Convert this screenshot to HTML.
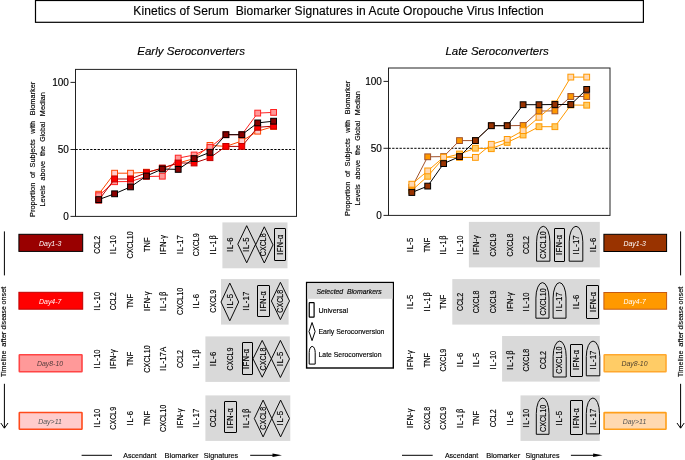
<!DOCTYPE html>
<html lang="en">
<head>
<meta charset="utf-8">
<title>Kinetics of Serum Biomarker Signatures in Acute Oropouche Virus Infection</title>
<style>
html,body{margin:0;padding:0;background:#fff;}
body{width:685px;height:460px;overflow:hidden;font-family:"Liberation Sans",Arial,sans-serif;}
svg{display:block;}
</style>
</head>
<body>
<svg width="685" height="460" viewBox="0 0 685 460">
<rect x="0" y="0" width="685" height="460" fill="#fff"/>
<rect x="35.5" y="0.5" width="607.9" height="21.8" fill="#fff" stroke="#000" stroke-width="1.2"/>
<text font-family="Liberation Sans, Arial, sans-serif" font-size="12" text-anchor="start" fill="#000" stroke="#000" stroke-width="0.15" textLength="410.5" lengthAdjust="spacing" x="133.30" y="14.70"  xml:space="preserve">Kinetics of Serum  Biomarker Signatures in Acute Oropouche Virus Infection</text>
<text font-family="Liberation Sans, Arial, sans-serif" font-size="11.5" text-anchor="start" fill="#000" stroke="#000" stroke-width="0.15" font-style="italic" textLength="107.8" lengthAdjust="spacingAndGlyphs" x="137.20" y="55.40"  xml:space="preserve">Early Seroconverters</text>
<text font-family="Liberation Sans, Arial, sans-serif" font-size="11.5" text-anchor="start" fill="#000" stroke="#000" stroke-width="0.15" font-style="italic" textLength="103.4" lengthAdjust="spacingAndGlyphs" x="445.40" y="55.40"  xml:space="preserve">Late Seroconverters</text>
<rect x="75.5" y="69.4" width="221.0" height="147.0" fill="none" stroke="#222" stroke-width="1"/>
<line x1="70.5" y1="82.4" x2="75.5" y2="82.4" stroke="#222" stroke-width="1"/>
<text font-family="Liberation Sans, Arial, sans-serif" font-size="10" text-anchor="end" fill="#000" stroke="#000" stroke-width="0.15" x="68.90" y="86.00"  xml:space="preserve">100</text>
<line x1="70.5" y1="149.5" x2="75.5" y2="149.5" stroke="#222" stroke-width="1"/>
<text font-family="Liberation Sans, Arial, sans-serif" font-size="10" text-anchor="end" fill="#000" stroke="#000" stroke-width="0.15" x="68.90" y="153.10"  xml:space="preserve">50</text>
<line x1="70.5" y1="216.4" x2="75.5" y2="216.4" stroke="#222" stroke-width="1"/>
<text font-family="Liberation Sans, Arial, sans-serif" font-size="10" text-anchor="end" fill="#000" stroke="#000" stroke-width="0.15" x="68.90" y="220.00"  xml:space="preserve">0</text>
<line x1="75.5" y1="149.5" x2="296.5" y2="149.5" stroke="#000" stroke-width="1" stroke-dasharray="2.3 1.38"/>
<text font-family="Liberation Sans, Arial, sans-serif" font-size="7.4" text-anchor="start" fill="#000" stroke="#000" stroke-width="0.15" textLength="34.3" lengthAdjust="spacingAndGlyphs" transform="translate(35.00,217.00) rotate(-90)"  xml:space="preserve">Proportion</text>
<text font-family="Liberation Sans, Arial, sans-serif" font-size="7.4" text-anchor="start" fill="#000" stroke="#000" stroke-width="0.15" textLength="6.3" lengthAdjust="spacingAndGlyphs" transform="translate(35.00,178.10) rotate(-90)"  xml:space="preserve">of</text>
<text font-family="Liberation Sans, Arial, sans-serif" font-size="7.4" text-anchor="start" fill="#000" stroke="#000" stroke-width="0.15" textLength="28.2" lengthAdjust="spacingAndGlyphs" transform="translate(35.00,167.50) rotate(-90)"  xml:space="preserve">Subjects</text>
<text font-family="Liberation Sans, Arial, sans-serif" font-size="7.4" text-anchor="start" fill="#000" stroke="#000" stroke-width="0.15" textLength="12.9" lengthAdjust="spacingAndGlyphs" transform="translate(35.00,133.80) rotate(-90)"  xml:space="preserve">with</text>
<text font-family="Liberation Sans, Arial, sans-serif" font-size="7.4" text-anchor="start" fill="#000" stroke="#000" stroke-width="0.15" textLength="33.5" lengthAdjust="spacingAndGlyphs" transform="translate(35.00,115.30) rotate(-90)"  xml:space="preserve">Biomarker</text>
<text font-family="Liberation Sans, Arial, sans-serif" font-size="7.4" text-anchor="start" fill="#000" stroke="#000" stroke-width="0.15" textLength="21.2" lengthAdjust="spacingAndGlyphs" transform="translate(44.80,206.60) rotate(-90)"  xml:space="preserve">Levels</text>
<text font-family="Liberation Sans, Arial, sans-serif" font-size="7.4" text-anchor="start" fill="#000" stroke="#000" stroke-width="0.15" textLength="19.7" lengthAdjust="spacingAndGlyphs" transform="translate(44.80,180.60) rotate(-90)"  xml:space="preserve">above</text>
<text font-family="Liberation Sans, Arial, sans-serif" font-size="7.4" text-anchor="start" fill="#000" stroke="#000" stroke-width="0.15" textLength="10.1" lengthAdjust="spacingAndGlyphs" transform="translate(44.80,156.10) rotate(-90)"  xml:space="preserve">the</text>
<text font-family="Liberation Sans, Arial, sans-serif" font-size="7.4" text-anchor="start" fill="#000" stroke="#000" stroke-width="0.15" textLength="20.0" lengthAdjust="spacingAndGlyphs" transform="translate(44.80,141.80) rotate(-90)"  xml:space="preserve">Global</text>
<text font-family="Liberation Sans, Arial, sans-serif" font-size="7.4" text-anchor="start" fill="#000" stroke="#000" stroke-width="0.15" textLength="24.0" lengthAdjust="spacingAndGlyphs" transform="translate(44.80,116.20) rotate(-90)"  xml:space="preserve">Median</text>
<polyline points="98.7,194.2 114.6,173.2 130.5,173.2 146.4,172.2 162.3,168.5 178.2,163.0 194.1,158.6 210.0,145.4 225.9,146.4 241.8,141.0 257.7,131.2 273.6,126.5" fill="none" stroke="#ff4500" stroke-width="1"/>
<rect x="95.8" y="191.3" width="5.8" height="5.8" fill="#ffcccc" stroke="#ff4500" stroke-width="1"/>
<rect x="111.7" y="170.3" width="5.8" height="5.8" fill="#ffcccc" stroke="#ff4500" stroke-width="1"/>
<rect x="127.6" y="170.3" width="5.8" height="5.8" fill="#ffcccc" stroke="#ff4500" stroke-width="1"/>
<rect x="143.5" y="169.3" width="5.8" height="5.8" fill="#ffcccc" stroke="#ff4500" stroke-width="1"/>
<rect x="159.4" y="165.6" width="5.8" height="5.8" fill="#ffcccc" stroke="#ff4500" stroke-width="1"/>
<rect x="175.3" y="160.1" width="5.8" height="5.8" fill="#ffcccc" stroke="#ff4500" stroke-width="1"/>
<rect x="191.2" y="155.7" width="5.8" height="5.8" fill="#ffcccc" stroke="#ff4500" stroke-width="1"/>
<rect x="207.1" y="142.5" width="5.8" height="5.8" fill="#ffcccc" stroke="#ff4500" stroke-width="1"/>
<rect x="223.0" y="143.5" width="5.8" height="5.8" fill="#ffcccc" stroke="#ff4500" stroke-width="1"/>
<rect x="238.9" y="138.1" width="5.8" height="5.8" fill="#ffcccc" stroke="#ff4500" stroke-width="1"/>
<rect x="254.8" y="128.3" width="5.8" height="5.8" fill="#ffcccc" stroke="#ff4500" stroke-width="1"/>
<rect x="270.7" y="123.6" width="5.8" height="5.8" fill="#ffcccc" stroke="#ff4500" stroke-width="1"/>
<polyline points="98.7,195.7 114.6,181.7 130.5,181.5 146.4,176.5 162.3,176.2 178.2,158.1 194.1,155.0 210.0,147.5 225.9,134.7 241.8,134.7 257.7,113.1 273.6,112.4" fill="none" stroke="#ff2222" stroke-width="1"/>
<rect x="95.8" y="192.8" width="5.8" height="5.8" fill="#ff9999" stroke="#ff2222" stroke-width="1"/>
<rect x="111.7" y="178.8" width="5.8" height="5.8" fill="#ff9999" stroke="#ff2222" stroke-width="1"/>
<rect x="127.6" y="178.6" width="5.8" height="5.8" fill="#ff9999" stroke="#ff2222" stroke-width="1"/>
<rect x="143.5" y="173.6" width="5.8" height="5.8" fill="#ff9999" stroke="#ff2222" stroke-width="1"/>
<rect x="159.4" y="173.3" width="5.8" height="5.8" fill="#ff9999" stroke="#ff2222" stroke-width="1"/>
<rect x="175.3" y="155.2" width="5.8" height="5.8" fill="#ff9999" stroke="#ff2222" stroke-width="1"/>
<rect x="191.2" y="152.1" width="5.8" height="5.8" fill="#ff9999" stroke="#ff2222" stroke-width="1"/>
<rect x="207.1" y="144.6" width="5.8" height="5.8" fill="#ff9999" stroke="#ff2222" stroke-width="1"/>
<rect x="223.0" y="131.8" width="5.8" height="5.8" fill="#ff9999" stroke="#ff2222" stroke-width="1"/>
<rect x="238.9" y="131.8" width="5.8" height="5.8" fill="#ff9999" stroke="#ff2222" stroke-width="1"/>
<rect x="254.8" y="110.2" width="5.8" height="5.8" fill="#ff9999" stroke="#ff2222" stroke-width="1"/>
<rect x="270.7" y="109.5" width="5.8" height="5.8" fill="#ff9999" stroke="#ff2222" stroke-width="1"/>
<polyline points="98.7,200.2 114.6,179.0 130.5,179.0 146.4,172.7 162.3,168.0 178.2,163.0 194.1,163.0 210.0,157.7 225.9,146.4 241.8,146.4 257.7,127.3 273.6,126.1" fill="none" stroke="#b00000" stroke-width="1"/>
<rect x="95.8" y="197.3" width="5.8" height="5.8" fill="#ff0000" stroke="#c00000" stroke-width="1"/>
<rect x="111.7" y="176.1" width="5.8" height="5.8" fill="#ff0000" stroke="#c00000" stroke-width="1"/>
<rect x="127.6" y="176.1" width="5.8" height="5.8" fill="#ff0000" stroke="#c00000" stroke-width="1"/>
<rect x="143.5" y="169.8" width="5.8" height="5.8" fill="#ff0000" stroke="#c00000" stroke-width="1"/>
<rect x="159.4" y="165.1" width="5.8" height="5.8" fill="#ff0000" stroke="#c00000" stroke-width="1"/>
<rect x="175.3" y="160.1" width="5.8" height="5.8" fill="#ff0000" stroke="#c00000" stroke-width="1"/>
<rect x="191.2" y="160.1" width="5.8" height="5.8" fill="#ff0000" stroke="#c00000" stroke-width="1"/>
<rect x="207.1" y="154.8" width="5.8" height="5.8" fill="#ff0000" stroke="#c00000" stroke-width="1"/>
<rect x="223.0" y="143.5" width="5.8" height="5.8" fill="#ff0000" stroke="#c00000" stroke-width="1"/>
<rect x="238.9" y="143.5" width="5.8" height="5.8" fill="#ff0000" stroke="#c00000" stroke-width="1"/>
<rect x="254.8" y="124.4" width="5.8" height="5.8" fill="#ff0000" stroke="#c00000" stroke-width="1"/>
<rect x="270.7" y="123.2" width="5.8" height="5.8" fill="#ff0000" stroke="#c00000" stroke-width="1"/>
<polyline points="98.7,199.6 114.6,193.8 130.5,186.9 146.4,176.0 162.3,169.0 178.2,169.4 194.1,158.6 210.0,152.3 225.9,134.7 241.8,134.7 257.7,122.9 273.6,121.2" fill="none" stroke="#000" stroke-width="1"/>
<rect x="95.8" y="196.7" width="5.8" height="5.8" fill="#8b0000" stroke="#000" stroke-width="1"/>
<rect x="111.7" y="190.9" width="5.8" height="5.8" fill="#8b0000" stroke="#000" stroke-width="1"/>
<rect x="127.6" y="184.0" width="5.8" height="5.8" fill="#8b0000" stroke="#000" stroke-width="1"/>
<rect x="143.5" y="173.1" width="5.8" height="5.8" fill="#8b0000" stroke="#000" stroke-width="1"/>
<rect x="159.4" y="166.1" width="5.8" height="5.8" fill="#8b0000" stroke="#000" stroke-width="1"/>
<rect x="175.3" y="166.5" width="5.8" height="5.8" fill="#8b0000" stroke="#000" stroke-width="1"/>
<rect x="191.2" y="155.7" width="5.8" height="5.8" fill="#8b0000" stroke="#000" stroke-width="1"/>
<rect x="207.1" y="149.4" width="5.8" height="5.8" fill="#8b0000" stroke="#000" stroke-width="1"/>
<rect x="223.0" y="131.8" width="5.8" height="5.8" fill="#8b0000" stroke="#000" stroke-width="1"/>
<rect x="238.9" y="131.8" width="5.8" height="5.8" fill="#8b0000" stroke="#000" stroke-width="1"/>
<rect x="254.8" y="120.0" width="5.8" height="5.8" fill="#8b0000" stroke="#000" stroke-width="1"/>
<rect x="270.7" y="118.3" width="5.8" height="5.8" fill="#8b0000" stroke="#000" stroke-width="1"/>
<rect x="388.5" y="68.0" width="221.5" height="147.4" fill="none" stroke="#222" stroke-width="1"/>
<line x1="383.5" y1="81.4" x2="388.5" y2="81.4" stroke="#222" stroke-width="1"/>
<text font-family="Liberation Sans, Arial, sans-serif" font-size="10" text-anchor="end" fill="#000" stroke="#000" stroke-width="0.15" x="381.90" y="85.00"  xml:space="preserve">100</text>
<line x1="383.5" y1="148.3" x2="388.5" y2="148.3" stroke="#222" stroke-width="1"/>
<text font-family="Liberation Sans, Arial, sans-serif" font-size="10" text-anchor="end" fill="#000" stroke="#000" stroke-width="0.15" x="381.90" y="151.90"  xml:space="preserve">50</text>
<line x1="383.5" y1="215.4" x2="388.5" y2="215.4" stroke="#222" stroke-width="1"/>
<text font-family="Liberation Sans, Arial, sans-serif" font-size="10" text-anchor="end" fill="#000" stroke="#000" stroke-width="0.15" x="381.90" y="219.00"  xml:space="preserve">0</text>
<line x1="388.5" y1="148.3" x2="610" y2="148.3" stroke="#000" stroke-width="1" stroke-dasharray="2.3 1.38"/>
<text font-family="Liberation Sans, Arial, sans-serif" font-size="7.4" text-anchor="start" fill="#000" stroke="#000" stroke-width="0.15" textLength="34.3" lengthAdjust="spacingAndGlyphs" transform="translate(350.00,216.00) rotate(-90)"  xml:space="preserve">Proportion</text>
<text font-family="Liberation Sans, Arial, sans-serif" font-size="7.4" text-anchor="start" fill="#000" stroke="#000" stroke-width="0.15" textLength="6.3" lengthAdjust="spacingAndGlyphs" transform="translate(350.00,177.10) rotate(-90)"  xml:space="preserve">of</text>
<text font-family="Liberation Sans, Arial, sans-serif" font-size="7.4" text-anchor="start" fill="#000" stroke="#000" stroke-width="0.15" textLength="28.2" lengthAdjust="spacingAndGlyphs" transform="translate(350.00,166.50) rotate(-90)"  xml:space="preserve">Subjects</text>
<text font-family="Liberation Sans, Arial, sans-serif" font-size="7.4" text-anchor="start" fill="#000" stroke="#000" stroke-width="0.15" textLength="12.9" lengthAdjust="spacingAndGlyphs" transform="translate(350.00,132.80) rotate(-90)"  xml:space="preserve">with</text>
<text font-family="Liberation Sans, Arial, sans-serif" font-size="7.4" text-anchor="start" fill="#000" stroke="#000" stroke-width="0.15" textLength="33.5" lengthAdjust="spacingAndGlyphs" transform="translate(350.00,114.30) rotate(-90)"  xml:space="preserve">Biomarker</text>
<text font-family="Liberation Sans, Arial, sans-serif" font-size="7.4" text-anchor="start" fill="#000" stroke="#000" stroke-width="0.15" textLength="21.2" lengthAdjust="spacingAndGlyphs" transform="translate(359.80,205.60) rotate(-90)"  xml:space="preserve">Levels</text>
<text font-family="Liberation Sans, Arial, sans-serif" font-size="7.4" text-anchor="start" fill="#000" stroke="#000" stroke-width="0.15" textLength="19.7" lengthAdjust="spacingAndGlyphs" transform="translate(359.80,179.60) rotate(-90)"  xml:space="preserve">above</text>
<text font-family="Liberation Sans, Arial, sans-serif" font-size="7.4" text-anchor="start" fill="#000" stroke="#000" stroke-width="0.15" textLength="10.1" lengthAdjust="spacingAndGlyphs" transform="translate(359.80,155.10) rotate(-90)"  xml:space="preserve">the</text>
<text font-family="Liberation Sans, Arial, sans-serif" font-size="7.4" text-anchor="start" fill="#000" stroke="#000" stroke-width="0.15" textLength="20.0" lengthAdjust="spacingAndGlyphs" transform="translate(359.80,140.80) rotate(-90)"  xml:space="preserve">Global</text>
<text font-family="Liberation Sans, Arial, sans-serif" font-size="7.4" text-anchor="start" fill="#000" stroke="#000" stroke-width="0.15" textLength="24.0" lengthAdjust="spacingAndGlyphs" transform="translate(359.80,115.20) rotate(-90)"  xml:space="preserve">Median</text>
<polyline points="411.8,190.4 427.7,176.3 443.6,157.9 459.5,154.0 475.4,148.2 491.3,148.7 507.2,142.4 523.1,135.0 539.0,126.7 554.9,126.7 570.8,105.0 586.7,105.2" fill="none" stroke="#ff9900" stroke-width="1"/>
<rect x="408.9" y="187.5" width="5.8" height="5.8" fill="#ffcc66" stroke="#ff9900" stroke-width="1"/>
<rect x="424.8" y="173.4" width="5.8" height="5.8" fill="#ffcc66" stroke="#ff9900" stroke-width="1"/>
<rect x="440.7" y="155.0" width="5.8" height="5.8" fill="#ffcc66" stroke="#ff9900" stroke-width="1"/>
<rect x="456.6" y="151.1" width="5.8" height="5.8" fill="#ffcc66" stroke="#ff9900" stroke-width="1"/>
<rect x="472.5" y="145.3" width="5.8" height="5.8" fill="#ffcc66" stroke="#ff9900" stroke-width="1"/>
<rect x="488.4" y="145.8" width="5.8" height="5.8" fill="#ffcc66" stroke="#ff9900" stroke-width="1"/>
<rect x="504.3" y="139.5" width="5.8" height="5.8" fill="#ffcc66" stroke="#ff9900" stroke-width="1"/>
<rect x="520.2" y="132.1" width="5.8" height="5.8" fill="#ffcc66" stroke="#ff9900" stroke-width="1"/>
<rect x="536.1" y="123.8" width="5.8" height="5.8" fill="#ffcc66" stroke="#ff9900" stroke-width="1"/>
<rect x="552.0" y="123.8" width="5.8" height="5.8" fill="#ffcc66" stroke="#ff9900" stroke-width="1"/>
<rect x="567.9" y="102.1" width="5.8" height="5.8" fill="#ffcc66" stroke="#ff9900" stroke-width="1"/>
<rect x="583.8" y="102.3" width="5.8" height="5.8" fill="#ffcc66" stroke="#ff9900" stroke-width="1"/>
<polyline points="411.8,187.4 427.7,156.8 443.6,156.6 459.5,140.6 475.4,140.6 491.3,125.7 507.2,125.7 523.1,125.5 539.0,111.0 554.9,110.9 570.8,96.5 586.7,96.5" fill="none" stroke="#a0522d" stroke-width="1"/>
<rect x="408.9" y="184.5" width="5.8" height="5.8" fill="#ff9900" stroke="#a0522d" stroke-width="1"/>
<rect x="424.8" y="153.9" width="5.8" height="5.8" fill="#ff9900" stroke="#a0522d" stroke-width="1"/>
<rect x="440.7" y="153.7" width="5.8" height="5.8" fill="#ff9900" stroke="#a0522d" stroke-width="1"/>
<rect x="456.6" y="137.7" width="5.8" height="5.8" fill="#ff9900" stroke="#a0522d" stroke-width="1"/>
<rect x="472.5" y="137.7" width="5.8" height="5.8" fill="#ff9900" stroke="#a0522d" stroke-width="1"/>
<rect x="488.4" y="122.8" width="5.8" height="5.8" fill="#ff9900" stroke="#a0522d" stroke-width="1"/>
<rect x="504.3" y="122.8" width="5.8" height="5.8" fill="#ff9900" stroke="#a0522d" stroke-width="1"/>
<rect x="520.2" y="122.6" width="5.8" height="5.8" fill="#ff9900" stroke="#a0522d" stroke-width="1"/>
<rect x="536.1" y="108.1" width="5.8" height="5.8" fill="#ff9900" stroke="#a0522d" stroke-width="1"/>
<rect x="552.0" y="108.0" width="5.8" height="5.8" fill="#ff9900" stroke="#a0522d" stroke-width="1"/>
<rect x="567.9" y="93.6" width="5.8" height="5.8" fill="#ff9900" stroke="#a0522d" stroke-width="1"/>
<rect x="583.8" y="93.6" width="5.8" height="5.8" fill="#ff9900" stroke="#a0522d" stroke-width="1"/>
<polyline points="411.8,184.2 427.7,170.9 443.6,157.2 459.5,157.4 475.4,157.4 491.3,144.3 507.2,139.4 523.1,130.6 539.0,117.3 554.9,103.9 570.8,77.1 586.7,77.1" fill="none" stroke="#ff9900" stroke-width="1"/>
<rect x="408.9" y="181.3" width="5.8" height="5.8" fill="#ffd9b3" stroke="#ff9900" stroke-width="1"/>
<rect x="424.8" y="168.0" width="5.8" height="5.8" fill="#ffd9b3" stroke="#ff9900" stroke-width="1"/>
<rect x="440.7" y="154.3" width="5.8" height="5.8" fill="#ffd9b3" stroke="#ff9900" stroke-width="1"/>
<rect x="456.6" y="154.5" width="5.8" height="5.8" fill="#ffd9b3" stroke="#ff9900" stroke-width="1"/>
<rect x="472.5" y="154.5" width="5.8" height="5.8" fill="#ffd9b3" stroke="#ff9900" stroke-width="1"/>
<rect x="488.4" y="141.4" width="5.8" height="5.8" fill="#ffd9b3" stroke="#ff9900" stroke-width="1"/>
<rect x="504.3" y="136.5" width="5.8" height="5.8" fill="#ffd9b3" stroke="#ff9900" stroke-width="1"/>
<rect x="520.2" y="127.7" width="5.8" height="5.8" fill="#ffd9b3" stroke="#ff9900" stroke-width="1"/>
<rect x="536.1" y="114.4" width="5.8" height="5.8" fill="#ffd9b3" stroke="#ff9900" stroke-width="1"/>
<rect x="552.0" y="101.0" width="5.8" height="5.8" fill="#ffd9b3" stroke="#ff9900" stroke-width="1"/>
<rect x="567.9" y="74.2" width="5.8" height="5.8" fill="#ffd9b3" stroke="#ff9900" stroke-width="1"/>
<rect x="583.8" y="74.2" width="5.8" height="5.8" fill="#ffd9b3" stroke="#ff9900" stroke-width="1"/>
<polyline points="411.8,192.5 427.7,186.1 443.6,163.6 459.5,156.6 475.4,140.6 491.3,125.7 507.2,125.7 523.1,104.7 539.0,104.7 554.9,104.5 570.8,104.5 586.7,89.4" fill="none" stroke="#000" stroke-width="1"/>
<rect x="408.9" y="189.6" width="5.8" height="5.8" fill="#993300" stroke="#000" stroke-width="1"/>
<rect x="424.8" y="183.2" width="5.8" height="5.8" fill="#993300" stroke="#000" stroke-width="1"/>
<rect x="440.7" y="160.7" width="5.8" height="5.8" fill="#993300" stroke="#000" stroke-width="1"/>
<rect x="456.6" y="153.7" width="5.8" height="5.8" fill="#993300" stroke="#000" stroke-width="1"/>
<rect x="472.5" y="137.7" width="5.8" height="5.8" fill="#993300" stroke="#000" stroke-width="1"/>
<rect x="488.4" y="122.8" width="5.8" height="5.8" fill="#993300" stroke="#000" stroke-width="1"/>
<rect x="504.3" y="122.8" width="5.8" height="5.8" fill="#993300" stroke="#000" stroke-width="1"/>
<rect x="520.2" y="101.8" width="5.8" height="5.8" fill="#993300" stroke="#000" stroke-width="1"/>
<rect x="536.1" y="101.8" width="5.8" height="5.8" fill="#993300" stroke="#000" stroke-width="1"/>
<rect x="552.0" y="101.6" width="5.8" height="5.8" fill="#993300" stroke="#000" stroke-width="1"/>
<rect x="567.9" y="101.6" width="5.8" height="5.8" fill="#993300" stroke="#000" stroke-width="1"/>
<rect x="583.8" y="86.5" width="5.8" height="5.8" fill="#993300" stroke="#000" stroke-width="1"/>
<rect x="222.4" y="222.4" width="65.1" height="45.9" fill="#d9d9d9"/>
<rect x="221" y="279.1" width="67.6" height="45.5" fill="#d9d9d9"/>
<rect x="205.4" y="336.4" width="84.4" height="45.5" fill="#d9d9d9"/>
<rect x="205.4" y="395.4" width="84.9" height="45.5" fill="#d9d9d9"/>
<rect x="468.9" y="221.9" width="130.9" height="45.5" fill="#d9d9d9"/>
<rect x="452.3" y="279.1" width="147.5" height="45.5" fill="#d9d9d9"/>
<rect x="502.1" y="336" width="97.7" height="45.6" fill="#d9d9d9"/>
<rect x="520.5" y="395.4" width="79.3" height="45.5" fill="#d9d9d9"/>
<text font-family="Liberation Sans, Arial, sans-serif" font-size="9.2" text-anchor="middle" fill="#000" stroke="#000" stroke-width="0.15" textLength="18.1" lengthAdjust="spacingAndGlyphs" transform="translate(99.70,244.80) rotate(-90)"  xml:space="preserve">CCL2</text>
<text font-family="Liberation Sans, Arial, sans-serif" font-size="9.2" text-anchor="middle" fill="#000" stroke="#000" stroke-width="0.15" textLength="19.0" lengthAdjust="spacingAndGlyphs" transform="translate(116.32,244.80) rotate(-90)" dx="0 1.1 0.3 0.2" xml:space="preserve">IL-10</text>
<text font-family="Liberation Sans, Arial, sans-serif" font-size="9.2" text-anchor="middle" fill="#000" stroke="#000" stroke-width="0.15" textLength="27.4" lengthAdjust="spacingAndGlyphs" transform="translate(132.94,244.80) rotate(-90)"  xml:space="preserve">CXCL10</text>
<text font-family="Liberation Sans, Arial, sans-serif" font-size="9.2" text-anchor="middle" fill="#000" stroke="#000" stroke-width="0.15" textLength="14.5" lengthAdjust="spacingAndGlyphs" transform="translate(149.56,244.80) rotate(-90)"  xml:space="preserve">TNF</text>
<text font-family="Liberation Sans, Arial, sans-serif" font-size="9.2" text-anchor="middle" fill="#000" stroke="#000" stroke-width="0.15" textLength="19.3" lengthAdjust="spacingAndGlyphs" transform="translate(166.18,244.80) rotate(-90)" dx="0 0.9 0.5 0.2 0.2" xml:space="preserve">IFN-γ</text>
<text font-family="Liberation Sans, Arial, sans-serif" font-size="9.2" text-anchor="middle" fill="#000" stroke="#000" stroke-width="0.15" textLength="19.0" lengthAdjust="spacingAndGlyphs" transform="translate(182.80,244.80) rotate(-90)" dx="0 1.1 0.3 0.2" xml:space="preserve">IL-17</text>
<text font-family="Liberation Sans, Arial, sans-serif" font-size="9.2" text-anchor="middle" fill="#000" stroke="#000" stroke-width="0.15" textLength="22.8" lengthAdjust="spacingAndGlyphs" transform="translate(199.42,244.80) rotate(-90)"  xml:space="preserve">CXCL9</text>
<text font-family="Liberation Sans, Arial, sans-serif" font-size="9.2" text-anchor="middle" fill="#000" stroke="#000" stroke-width="0.15" textLength="19.2" lengthAdjust="spacingAndGlyphs" transform="translate(216.04,244.80) rotate(-90)" dx="0 1.1 0.3 0.2 0.9" xml:space="preserve">IL-1β</text>
<text font-family="Liberation Sans, Arial, sans-serif" font-size="9.2" text-anchor="middle" fill="#000" stroke="#000" stroke-width="0.15" textLength="14.5" lengthAdjust="spacingAndGlyphs" transform="translate(232.66,244.80) rotate(-90)" dx="0 1.1 0.3 0.2" xml:space="preserve">IL-6</text>
<text font-family="Liberation Sans, Arial, sans-serif" font-size="9.2" text-anchor="middle" fill="#000" stroke="#000" stroke-width="0.15" textLength="14.5" lengthAdjust="spacingAndGlyphs" transform="translate(249.28,244.80) rotate(-90)" dx="0 1.1 0.3 0.2" xml:space="preserve">IL-5</text>
<text font-family="Liberation Sans, Arial, sans-serif" font-size="9.2" text-anchor="middle" fill="#000" stroke="#000" stroke-width="0.15" textLength="22.8" lengthAdjust="spacingAndGlyphs" transform="translate(265.90,244.80) rotate(-90)"  xml:space="preserve">CXCL8</text>
<text font-family="Liberation Sans, Arial, sans-serif" font-size="9.2" text-anchor="middle" fill="#000" stroke="#000" stroke-width="0.15" textLength="20.0" lengthAdjust="spacingAndGlyphs" transform="translate(282.52,244.80) rotate(-90)" dx="0 0.9 0.5 0.2 0.2" xml:space="preserve">IFN-α</text>
<text font-family="Liberation Sans, Arial, sans-serif" font-size="9.2" text-anchor="middle" fill="#000" stroke="#000" stroke-width="0.15" textLength="19.0" lengthAdjust="spacingAndGlyphs" transform="translate(99.70,301.30) rotate(-90)" dx="0 1.1 0.3 0.2" xml:space="preserve">IL-10</text>
<text font-family="Liberation Sans, Arial, sans-serif" font-size="9.2" text-anchor="middle" fill="#000" stroke="#000" stroke-width="0.15" textLength="18.1" lengthAdjust="spacingAndGlyphs" transform="translate(116.32,301.30) rotate(-90)"  xml:space="preserve">CCL2</text>
<text font-family="Liberation Sans, Arial, sans-serif" font-size="9.2" text-anchor="middle" fill="#000" stroke="#000" stroke-width="0.15" textLength="14.5" lengthAdjust="spacingAndGlyphs" transform="translate(132.94,301.30) rotate(-90)"  xml:space="preserve">TNF</text>
<text font-family="Liberation Sans, Arial, sans-serif" font-size="9.2" text-anchor="middle" fill="#000" stroke="#000" stroke-width="0.15" textLength="19.3" lengthAdjust="spacingAndGlyphs" transform="translate(149.56,301.30) rotate(-90)" dx="0 0.9 0.5 0.2 0.2" xml:space="preserve">IFN-γ</text>
<text font-family="Liberation Sans, Arial, sans-serif" font-size="9.2" text-anchor="middle" fill="#000" stroke="#000" stroke-width="0.15" textLength="19.2" lengthAdjust="spacingAndGlyphs" transform="translate(166.18,301.30) rotate(-90)" dx="0 1.1 0.3 0.2 0.9" xml:space="preserve">IL-1β</text>
<text font-family="Liberation Sans, Arial, sans-serif" font-size="9.2" text-anchor="middle" fill="#000" stroke="#000" stroke-width="0.15" textLength="27.4" lengthAdjust="spacingAndGlyphs" transform="translate(182.80,301.30) rotate(-90)"  xml:space="preserve">CXCL10</text>
<text font-family="Liberation Sans, Arial, sans-serif" font-size="9.2" text-anchor="middle" fill="#000" stroke="#000" stroke-width="0.15" textLength="14.5" lengthAdjust="spacingAndGlyphs" transform="translate(199.42,301.30) rotate(-90)" dx="0 1.1 0.3 0.2" xml:space="preserve">IL-6</text>
<text font-family="Liberation Sans, Arial, sans-serif" font-size="9.2" text-anchor="middle" fill="#000" stroke="#000" stroke-width="0.15" textLength="22.8" lengthAdjust="spacingAndGlyphs" transform="translate(216.04,301.30) rotate(-90)"  xml:space="preserve">CXCL9</text>
<text font-family="Liberation Sans, Arial, sans-serif" font-size="9.2" text-anchor="middle" fill="#000" stroke="#000" stroke-width="0.15" textLength="14.5" lengthAdjust="spacingAndGlyphs" transform="translate(232.66,301.30) rotate(-90)" dx="0 1.1 0.3 0.2" xml:space="preserve">IL-5</text>
<text font-family="Liberation Sans, Arial, sans-serif" font-size="9.2" text-anchor="middle" fill="#000" stroke="#000" stroke-width="0.15" textLength="19.0" lengthAdjust="spacingAndGlyphs" transform="translate(249.28,301.30) rotate(-90)" dx="0 1.1 0.3 0.2" xml:space="preserve">IL-17</text>
<text font-family="Liberation Sans, Arial, sans-serif" font-size="9.2" text-anchor="middle" fill="#000" stroke="#000" stroke-width="0.15" textLength="20.0" lengthAdjust="spacingAndGlyphs" transform="translate(265.90,301.30) rotate(-90)" dx="0 0.9 0.5 0.2 0.2" xml:space="preserve">IFN-α</text>
<text font-family="Liberation Sans, Arial, sans-serif" font-size="9.2" text-anchor="middle" fill="#000" stroke="#000" stroke-width="0.15" textLength="22.8" lengthAdjust="spacingAndGlyphs" transform="translate(282.52,301.30) rotate(-90)"  xml:space="preserve">CXCL8</text>
<text font-family="Liberation Sans, Arial, sans-serif" font-size="9.2" text-anchor="middle" fill="#000" stroke="#000" stroke-width="0.15" textLength="19.0" lengthAdjust="spacingAndGlyphs" transform="translate(99.70,359.00) rotate(-90)" dx="0 1.1 0.3 0.2" xml:space="preserve">IL-10</text>
<text font-family="Liberation Sans, Arial, sans-serif" font-size="9.2" text-anchor="middle" fill="#000" stroke="#000" stroke-width="0.15" textLength="19.3" lengthAdjust="spacingAndGlyphs" transform="translate(116.32,359.00) rotate(-90)" dx="0 0.9 0.5 0.2 0.2" xml:space="preserve">IFN-γ</text>
<text font-family="Liberation Sans, Arial, sans-serif" font-size="9.2" text-anchor="middle" fill="#000" stroke="#000" stroke-width="0.15" textLength="14.5" lengthAdjust="spacingAndGlyphs" transform="translate(132.94,359.00) rotate(-90)"  xml:space="preserve">TNF</text>
<text font-family="Liberation Sans, Arial, sans-serif" font-size="9.2" text-anchor="middle" fill="#000" stroke="#000" stroke-width="0.15" textLength="27.4" lengthAdjust="spacingAndGlyphs" transform="translate(149.56,359.00) rotate(-90)"  xml:space="preserve">CXCL10</text>
<text font-family="Liberation Sans, Arial, sans-serif" font-size="9.2" text-anchor="middle" fill="#000" stroke="#000" stroke-width="0.15" textLength="24.2" lengthAdjust="spacingAndGlyphs" transform="translate(166.18,359.00) rotate(-90)" dx="0 1.1 0.3 0.2" xml:space="preserve">IL-17A</text>
<text font-family="Liberation Sans, Arial, sans-serif" font-size="9.2" text-anchor="middle" fill="#000" stroke="#000" stroke-width="0.15" textLength="18.1" lengthAdjust="spacingAndGlyphs" transform="translate(182.80,359.00) rotate(-90)"  xml:space="preserve">CCL2</text>
<text font-family="Liberation Sans, Arial, sans-serif" font-size="9.2" text-anchor="middle" fill="#000" stroke="#000" stroke-width="0.15" textLength="19.2" lengthAdjust="spacingAndGlyphs" transform="translate(199.42,359.00) rotate(-90)" dx="0 1.1 0.3 0.2 0.9" xml:space="preserve">IL-1β</text>
<text font-family="Liberation Sans, Arial, sans-serif" font-size="9.2" text-anchor="middle" fill="#000" stroke="#000" stroke-width="0.15" textLength="14.5" lengthAdjust="spacingAndGlyphs" transform="translate(216.04,359.00) rotate(-90)" dx="0 1.1 0.3 0.2" xml:space="preserve">IL-6</text>
<text font-family="Liberation Sans, Arial, sans-serif" font-size="9.2" text-anchor="middle" fill="#000" stroke="#000" stroke-width="0.15" textLength="22.8" lengthAdjust="spacingAndGlyphs" transform="translate(232.66,359.00) rotate(-90)"  xml:space="preserve">CXCL9</text>
<text font-family="Liberation Sans, Arial, sans-serif" font-size="9.2" text-anchor="middle" fill="#000" stroke="#000" stroke-width="0.15" textLength="20.0" lengthAdjust="spacingAndGlyphs" transform="translate(249.28,359.00) rotate(-90)" dx="0 0.9 0.5 0.2 0.2" xml:space="preserve">IFN-α</text>
<text font-family="Liberation Sans, Arial, sans-serif" font-size="9.2" text-anchor="middle" fill="#000" stroke="#000" stroke-width="0.15" textLength="22.8" lengthAdjust="spacingAndGlyphs" transform="translate(265.90,359.00) rotate(-90)"  xml:space="preserve">CXCL8</text>
<text font-family="Liberation Sans, Arial, sans-serif" font-size="9.2" text-anchor="middle" fill="#000" stroke="#000" stroke-width="0.15" textLength="14.5" lengthAdjust="spacingAndGlyphs" transform="translate(282.52,359.00) rotate(-90)" dx="0 1.1 0.3 0.2" xml:space="preserve">IL-5</text>
<text font-family="Liberation Sans, Arial, sans-serif" font-size="9.2" text-anchor="middle" fill="#000" stroke="#000" stroke-width="0.15" textLength="19.0" lengthAdjust="spacingAndGlyphs" transform="translate(99.70,418.30) rotate(-90)" dx="0 1.1 0.3 0.2" xml:space="preserve">IL-10</text>
<text font-family="Liberation Sans, Arial, sans-serif" font-size="9.2" text-anchor="middle" fill="#000" stroke="#000" stroke-width="0.15" textLength="22.8" lengthAdjust="spacingAndGlyphs" transform="translate(116.32,418.30) rotate(-90)"  xml:space="preserve">CXCL9</text>
<text font-family="Liberation Sans, Arial, sans-serif" font-size="9.2" text-anchor="middle" fill="#000" stroke="#000" stroke-width="0.15" textLength="14.5" lengthAdjust="spacingAndGlyphs" transform="translate(132.94,418.30) rotate(-90)" dx="0 1.1 0.3 0.2" xml:space="preserve">IL-6</text>
<text font-family="Liberation Sans, Arial, sans-serif" font-size="9.2" text-anchor="middle" fill="#000" stroke="#000" stroke-width="0.15" textLength="14.5" lengthAdjust="spacingAndGlyphs" transform="translate(149.56,418.30) rotate(-90)"  xml:space="preserve">TNF</text>
<text font-family="Liberation Sans, Arial, sans-serif" font-size="9.2" text-anchor="middle" fill="#000" stroke="#000" stroke-width="0.15" textLength="27.4" lengthAdjust="spacingAndGlyphs" transform="translate(166.18,418.30) rotate(-90)"  xml:space="preserve">CXCL10</text>
<text font-family="Liberation Sans, Arial, sans-serif" font-size="9.2" text-anchor="middle" fill="#000" stroke="#000" stroke-width="0.15" textLength="19.3" lengthAdjust="spacingAndGlyphs" transform="translate(182.80,418.30) rotate(-90)" dx="0 0.9 0.5 0.2 0.2" xml:space="preserve">IFN-γ</text>
<text font-family="Liberation Sans, Arial, sans-serif" font-size="9.2" text-anchor="middle" fill="#000" stroke="#000" stroke-width="0.15" textLength="19.0" lengthAdjust="spacingAndGlyphs" transform="translate(199.42,418.30) rotate(-90)" dx="0 1.1 0.3 0.2" xml:space="preserve">IL-17</text>
<text font-family="Liberation Sans, Arial, sans-serif" font-size="9.2" text-anchor="middle" fill="#000" stroke="#000" stroke-width="0.15" textLength="18.1" lengthAdjust="spacingAndGlyphs" transform="translate(216.04,418.30) rotate(-90)"  xml:space="preserve">CCL2</text>
<text font-family="Liberation Sans, Arial, sans-serif" font-size="9.2" text-anchor="middle" fill="#000" stroke="#000" stroke-width="0.15" textLength="20.0" lengthAdjust="spacingAndGlyphs" transform="translate(232.66,418.30) rotate(-90)" dx="0 0.9 0.5 0.2 0.2" xml:space="preserve">IFN-α</text>
<text font-family="Liberation Sans, Arial, sans-serif" font-size="9.2" text-anchor="middle" fill="#000" stroke="#000" stroke-width="0.15" textLength="19.2" lengthAdjust="spacingAndGlyphs" transform="translate(249.28,418.30) rotate(-90)" dx="0 1.1 0.3 0.2 0.9" xml:space="preserve">IL-1β</text>
<text font-family="Liberation Sans, Arial, sans-serif" font-size="9.2" text-anchor="middle" fill="#000" stroke="#000" stroke-width="0.15" textLength="22.8" lengthAdjust="spacingAndGlyphs" transform="translate(265.90,418.30) rotate(-90)"  xml:space="preserve">CXCL8</text>
<text font-family="Liberation Sans, Arial, sans-serif" font-size="9.2" text-anchor="middle" fill="#000" stroke="#000" stroke-width="0.15" textLength="14.5" lengthAdjust="spacingAndGlyphs" transform="translate(282.52,418.30) rotate(-90)" dx="0 1.1 0.3 0.2" xml:space="preserve">IL-5</text>
<text font-family="Liberation Sans, Arial, sans-serif" font-size="9.2" text-anchor="middle" fill="#000" stroke="#000" stroke-width="0.15" textLength="14.5" lengthAdjust="spacingAndGlyphs" transform="translate(412.90,245.00) rotate(-90)" dx="0 1.1 0.3 0.2" xml:space="preserve">IL-5</text>
<text font-family="Liberation Sans, Arial, sans-serif" font-size="9.2" text-anchor="middle" fill="#000" stroke="#000" stroke-width="0.15" textLength="14.5" lengthAdjust="spacingAndGlyphs" transform="translate(429.50,245.00) rotate(-90)"  xml:space="preserve">TNF</text>
<text font-family="Liberation Sans, Arial, sans-serif" font-size="9.2" text-anchor="middle" fill="#000" stroke="#000" stroke-width="0.15" textLength="19.2" lengthAdjust="spacingAndGlyphs" transform="translate(446.10,245.00) rotate(-90)" dx="0 1.1 0.3 0.2 0.9" xml:space="preserve">IL-1β</text>
<text font-family="Liberation Sans, Arial, sans-serif" font-size="9.2" text-anchor="middle" fill="#000" stroke="#000" stroke-width="0.15" textLength="19.0" lengthAdjust="spacingAndGlyphs" transform="translate(462.70,245.00) rotate(-90)" dx="0 1.1 0.3 0.2" xml:space="preserve">IL-10</text>
<text font-family="Liberation Sans, Arial, sans-serif" font-size="9.2" text-anchor="middle" fill="#000" stroke="#000" stroke-width="0.15" textLength="19.3" lengthAdjust="spacingAndGlyphs" transform="translate(479.30,245.00) rotate(-90)" dx="0 0.9 0.5 0.2 0.2" xml:space="preserve">IFN-γ</text>
<text font-family="Liberation Sans, Arial, sans-serif" font-size="9.2" text-anchor="middle" fill="#000" stroke="#000" stroke-width="0.15" textLength="22.8" lengthAdjust="spacingAndGlyphs" transform="translate(495.90,245.00) rotate(-90)"  xml:space="preserve">CXCL9</text>
<text font-family="Liberation Sans, Arial, sans-serif" font-size="9.2" text-anchor="middle" fill="#000" stroke="#000" stroke-width="0.15" textLength="22.8" lengthAdjust="spacingAndGlyphs" transform="translate(512.50,245.00) rotate(-90)"  xml:space="preserve">CXCL8</text>
<text font-family="Liberation Sans, Arial, sans-serif" font-size="9.2" text-anchor="middle" fill="#000" stroke="#000" stroke-width="0.15" textLength="18.1" lengthAdjust="spacingAndGlyphs" transform="translate(529.10,245.00) rotate(-90)"  xml:space="preserve">CCL2</text>
<text font-family="Liberation Sans, Arial, sans-serif" font-size="9.2" text-anchor="middle" fill="#000" stroke="#000" stroke-width="0.15" textLength="27.4" lengthAdjust="spacingAndGlyphs" transform="translate(545.70,245.00) rotate(-90)"  xml:space="preserve">CXCL10</text>
<text font-family="Liberation Sans, Arial, sans-serif" font-size="9.2" text-anchor="middle" fill="#000" stroke="#000" stroke-width="0.15" textLength="20.0" lengthAdjust="spacingAndGlyphs" transform="translate(562.30,245.00) rotate(-90)" dx="0 0.9 0.5 0.2 0.2" xml:space="preserve">IFN-α</text>
<text font-family="Liberation Sans, Arial, sans-serif" font-size="9.2" text-anchor="middle" fill="#000" stroke="#000" stroke-width="0.15" textLength="19.0" lengthAdjust="spacingAndGlyphs" transform="translate(578.90,245.00) rotate(-90)" dx="0 1.1 0.3 0.2" xml:space="preserve">IL-17</text>
<text font-family="Liberation Sans, Arial, sans-serif" font-size="9.2" text-anchor="middle" fill="#000" stroke="#000" stroke-width="0.15" textLength="14.5" lengthAdjust="spacingAndGlyphs" transform="translate(595.50,245.00) rotate(-90)" dx="0 1.1 0.3 0.2" xml:space="preserve">IL-6</text>
<text font-family="Liberation Sans, Arial, sans-serif" font-size="9.2" text-anchor="middle" fill="#000" stroke="#000" stroke-width="0.15" textLength="14.5" lengthAdjust="spacingAndGlyphs" transform="translate(412.90,301.90) rotate(-90)" dx="0 1.1 0.3 0.2" xml:space="preserve">IL-5</text>
<text font-family="Liberation Sans, Arial, sans-serif" font-size="9.2" text-anchor="middle" fill="#000" stroke="#000" stroke-width="0.15" textLength="19.2" lengthAdjust="spacingAndGlyphs" transform="translate(429.50,301.90) rotate(-90)" dx="0 1.1 0.3 0.2 0.9" xml:space="preserve">IL-1β</text>
<text font-family="Liberation Sans, Arial, sans-serif" font-size="9.2" text-anchor="middle" fill="#000" stroke="#000" stroke-width="0.15" textLength="14.5" lengthAdjust="spacingAndGlyphs" transform="translate(446.10,301.90) rotate(-90)"  xml:space="preserve">TNF</text>
<text font-family="Liberation Sans, Arial, sans-serif" font-size="9.2" text-anchor="middle" fill="#000" stroke="#000" stroke-width="0.15" textLength="18.1" lengthAdjust="spacingAndGlyphs" transform="translate(462.70,301.90) rotate(-90)"  xml:space="preserve">CCL2</text>
<text font-family="Liberation Sans, Arial, sans-serif" font-size="9.2" text-anchor="middle" fill="#000" stroke="#000" stroke-width="0.15" textLength="22.8" lengthAdjust="spacingAndGlyphs" transform="translate(479.30,301.90) rotate(-90)"  xml:space="preserve">CXCL8</text>
<text font-family="Liberation Sans, Arial, sans-serif" font-size="9.2" text-anchor="middle" fill="#000" stroke="#000" stroke-width="0.15" textLength="22.8" lengthAdjust="spacingAndGlyphs" transform="translate(495.90,301.90) rotate(-90)"  xml:space="preserve">CXCL9</text>
<text font-family="Liberation Sans, Arial, sans-serif" font-size="9.2" text-anchor="middle" fill="#000" stroke="#000" stroke-width="0.15" textLength="19.3" lengthAdjust="spacingAndGlyphs" transform="translate(512.50,301.90) rotate(-90)" dx="0 0.9 0.5 0.2 0.2" xml:space="preserve">IFN-γ</text>
<text font-family="Liberation Sans, Arial, sans-serif" font-size="9.2" text-anchor="middle" fill="#000" stroke="#000" stroke-width="0.15" textLength="19.0" lengthAdjust="spacingAndGlyphs" transform="translate(529.10,301.90) rotate(-90)" dx="0 1.1 0.3 0.2" xml:space="preserve">IL-10</text>
<text font-family="Liberation Sans, Arial, sans-serif" font-size="9.2" text-anchor="middle" fill="#000" stroke="#000" stroke-width="0.15" textLength="27.4" lengthAdjust="spacingAndGlyphs" transform="translate(545.70,301.90) rotate(-90)"  xml:space="preserve">CXCL10</text>
<text font-family="Liberation Sans, Arial, sans-serif" font-size="9.2" text-anchor="middle" fill="#000" stroke="#000" stroke-width="0.15" textLength="19.0" lengthAdjust="spacingAndGlyphs" transform="translate(562.30,301.90) rotate(-90)" dx="0 1.1 0.3 0.2" xml:space="preserve">IL-17</text>
<text font-family="Liberation Sans, Arial, sans-serif" font-size="9.2" text-anchor="middle" fill="#000" stroke="#000" stroke-width="0.15" textLength="14.5" lengthAdjust="spacingAndGlyphs" transform="translate(578.90,301.90) rotate(-90)" dx="0 1.1 0.3 0.2" xml:space="preserve">IL-6</text>
<text font-family="Liberation Sans, Arial, sans-serif" font-size="9.2" text-anchor="middle" fill="#000" stroke="#000" stroke-width="0.15" textLength="20.0" lengthAdjust="spacingAndGlyphs" transform="translate(595.50,301.90) rotate(-90)" dx="0 0.9 0.5 0.2 0.2" xml:space="preserve">IFN-α</text>
<text font-family="Liberation Sans, Arial, sans-serif" font-size="9.2" text-anchor="middle" fill="#000" stroke="#000" stroke-width="0.15" textLength="19.3" lengthAdjust="spacingAndGlyphs" transform="translate(412.90,360.10) rotate(-90)" dx="0 0.9 0.5 0.2 0.2" xml:space="preserve">IFN-γ</text>
<text font-family="Liberation Sans, Arial, sans-serif" font-size="9.2" text-anchor="middle" fill="#000" stroke="#000" stroke-width="0.15" textLength="14.5" lengthAdjust="spacingAndGlyphs" transform="translate(429.50,360.10) rotate(-90)"  xml:space="preserve">TNF</text>
<text font-family="Liberation Sans, Arial, sans-serif" font-size="9.2" text-anchor="middle" fill="#000" stroke="#000" stroke-width="0.15" textLength="22.8" lengthAdjust="spacingAndGlyphs" transform="translate(446.10,360.10) rotate(-90)"  xml:space="preserve">CXCL9</text>
<text font-family="Liberation Sans, Arial, sans-serif" font-size="9.2" text-anchor="middle" fill="#000" stroke="#000" stroke-width="0.15" textLength="14.5" lengthAdjust="spacingAndGlyphs" transform="translate(462.70,360.10) rotate(-90)" dx="0 1.1 0.3 0.2" xml:space="preserve">IL-6</text>
<text font-family="Liberation Sans, Arial, sans-serif" font-size="9.2" text-anchor="middle" fill="#000" stroke="#000" stroke-width="0.15" textLength="14.5" lengthAdjust="spacingAndGlyphs" transform="translate(479.30,360.10) rotate(-90)" dx="0 1.1 0.3 0.2" xml:space="preserve">IL-5</text>
<text font-family="Liberation Sans, Arial, sans-serif" font-size="9.2" text-anchor="middle" fill="#000" stroke="#000" stroke-width="0.15" textLength="19.0" lengthAdjust="spacingAndGlyphs" transform="translate(495.90,360.10) rotate(-90)" dx="0 1.1 0.3 0.2" xml:space="preserve">IL-10</text>
<text font-family="Liberation Sans, Arial, sans-serif" font-size="9.2" text-anchor="middle" fill="#000" stroke="#000" stroke-width="0.15" textLength="19.2" lengthAdjust="spacingAndGlyphs" transform="translate(512.50,360.10) rotate(-90)" dx="0 1.1 0.3 0.2 0.9" xml:space="preserve">IL-1β</text>
<text font-family="Liberation Sans, Arial, sans-serif" font-size="9.2" text-anchor="middle" fill="#000" stroke="#000" stroke-width="0.15" textLength="22.8" lengthAdjust="spacingAndGlyphs" transform="translate(529.10,360.10) rotate(-90)"  xml:space="preserve">CXCL8</text>
<text font-family="Liberation Sans, Arial, sans-serif" font-size="9.2" text-anchor="middle" fill="#000" stroke="#000" stroke-width="0.15" textLength="18.1" lengthAdjust="spacingAndGlyphs" transform="translate(545.70,360.10) rotate(-90)"  xml:space="preserve">CCL2</text>
<text font-family="Liberation Sans, Arial, sans-serif" font-size="9.2" text-anchor="middle" fill="#000" stroke="#000" stroke-width="0.15" textLength="27.4" lengthAdjust="spacingAndGlyphs" transform="translate(562.30,360.10) rotate(-90)"  xml:space="preserve">CXCL10</text>
<text font-family="Liberation Sans, Arial, sans-serif" font-size="9.2" text-anchor="middle" fill="#000" stroke="#000" stroke-width="0.15" textLength="20.0" lengthAdjust="spacingAndGlyphs" transform="translate(578.90,360.10) rotate(-90)" dx="0 0.9 0.5 0.2 0.2" xml:space="preserve">IFN-α</text>
<text font-family="Liberation Sans, Arial, sans-serif" font-size="9.2" text-anchor="middle" fill="#000" stroke="#000" stroke-width="0.15" textLength="19.0" lengthAdjust="spacingAndGlyphs" transform="translate(595.50,360.10) rotate(-90)" dx="0 1.1 0.3 0.2" xml:space="preserve">IL-17</text>
<text font-family="Liberation Sans, Arial, sans-serif" font-size="9.2" text-anchor="middle" fill="#000" stroke="#000" stroke-width="0.15" textLength="19.3" lengthAdjust="spacingAndGlyphs" transform="translate(412.90,418.30) rotate(-90)" dx="0 0.9 0.5 0.2 0.2" xml:space="preserve">IFN-γ</text>
<text font-family="Liberation Sans, Arial, sans-serif" font-size="9.2" text-anchor="middle" fill="#000" stroke="#000" stroke-width="0.15" textLength="22.8" lengthAdjust="spacingAndGlyphs" transform="translate(429.50,418.30) rotate(-90)"  xml:space="preserve">CXCL8</text>
<text font-family="Liberation Sans, Arial, sans-serif" font-size="9.2" text-anchor="middle" fill="#000" stroke="#000" stroke-width="0.15" textLength="22.8" lengthAdjust="spacingAndGlyphs" transform="translate(446.10,418.30) rotate(-90)"  xml:space="preserve">CXCL9</text>
<text font-family="Liberation Sans, Arial, sans-serif" font-size="9.2" text-anchor="middle" fill="#000" stroke="#000" stroke-width="0.15" textLength="19.2" lengthAdjust="spacingAndGlyphs" transform="translate(462.70,418.30) rotate(-90)" dx="0 1.1 0.3 0.2 0.9" xml:space="preserve">IL-1β</text>
<text font-family="Liberation Sans, Arial, sans-serif" font-size="9.2" text-anchor="middle" fill="#000" stroke="#000" stroke-width="0.15" textLength="14.5" lengthAdjust="spacingAndGlyphs" transform="translate(479.30,418.30) rotate(-90)"  xml:space="preserve">TNF</text>
<text font-family="Liberation Sans, Arial, sans-serif" font-size="9.2" text-anchor="middle" fill="#000" stroke="#000" stroke-width="0.15" textLength="18.1" lengthAdjust="spacingAndGlyphs" transform="translate(495.90,418.30) rotate(-90)"  xml:space="preserve">CCL2</text>
<text font-family="Liberation Sans, Arial, sans-serif" font-size="9.2" text-anchor="middle" fill="#000" stroke="#000" stroke-width="0.15" textLength="14.5" lengthAdjust="spacingAndGlyphs" transform="translate(512.50,418.30) rotate(-90)" dx="0 1.1 0.3 0.2" xml:space="preserve">IL-6</text>
<text font-family="Liberation Sans, Arial, sans-serif" font-size="9.2" text-anchor="middle" fill="#000" stroke="#000" stroke-width="0.15" textLength="19.0" lengthAdjust="spacingAndGlyphs" transform="translate(529.10,418.30) rotate(-90)" dx="0 1.1 0.3 0.2" xml:space="preserve">IL-10</text>
<text font-family="Liberation Sans, Arial, sans-serif" font-size="9.2" text-anchor="middle" fill="#000" stroke="#000" stroke-width="0.15" textLength="27.4" lengthAdjust="spacingAndGlyphs" transform="translate(545.70,418.30) rotate(-90)"  xml:space="preserve">CXCL10</text>
<text font-family="Liberation Sans, Arial, sans-serif" font-size="9.2" text-anchor="middle" fill="#000" stroke="#000" stroke-width="0.15" textLength="14.5" lengthAdjust="spacingAndGlyphs" transform="translate(562.30,418.30) rotate(-90)" dx="0 1.1 0.3 0.2" xml:space="preserve">IL-5</text>
<text font-family="Liberation Sans, Arial, sans-serif" font-size="9.2" text-anchor="middle" fill="#000" stroke="#000" stroke-width="0.15" textLength="20.0" lengthAdjust="spacingAndGlyphs" transform="translate(578.90,418.30) rotate(-90)" dx="0 0.9 0.5 0.2 0.2" xml:space="preserve">IFN-α</text>
<text font-family="Liberation Sans, Arial, sans-serif" font-size="9.2" text-anchor="middle" fill="#000" stroke="#000" stroke-width="0.15" textLength="19.0" lengthAdjust="spacingAndGlyphs" transform="translate(595.50,418.30) rotate(-90)" dx="0 1.1 0.3 0.2" xml:space="preserve">IL-17</text>
<path d="M237.8,244.2 L246.7,225.7 L255.6,244.2 L246.7,262.8 Z" fill="none" stroke="#000" stroke-width="0.95" stroke-linejoin="miter"/>
<path d="M255.6,244.9 L264.3,226.8 L273.0,244.9 L264.3,263.0 Z" fill="none" stroke="#000" stroke-width="0.95" stroke-linejoin="miter"/>
<path d="M221.0,302.0 L229.8,283.1 L238.7,302.0 L229.8,320.8 Z" fill="none" stroke="#000" stroke-width="0.95" stroke-linejoin="miter"/>
<path d="M271.4,301.0 L280.4,282.3 L289.5,301.0 L280.4,319.6 Z" fill="none" stroke="#000" stroke-width="0.95" stroke-linejoin="miter"/>
<path d="M253.0,358.8 L262.2,340.4 L271.4,358.8 L262.2,377.2 Z" fill="none" stroke="#000" stroke-width="0.95" stroke-linejoin="miter"/>
<path d="M271.4,358.9 L280.4,340.4 L289.5,358.9 L280.4,377.5 Z" fill="none" stroke="#000" stroke-width="0.95" stroke-linejoin="miter"/>
<path d="M254.3,418.5 L263.1,400.1 L271.8,418.5 L263.1,436.9 Z" fill="none" stroke="#000" stroke-width="0.95" stroke-linejoin="miter"/>
<path d="M271.8,418.5 L280.6,400.1 L289.5,418.5 L280.6,436.9 Z" fill="none" stroke="#000" stroke-width="0.95" stroke-linejoin="miter"/>
<rect x="274.5" y="228.5" width="11.0" height="32.0" rx="0.4" fill="none" stroke="#000" stroke-width="1"/>
<rect x="257.5" y="285.5" width="12.0" height="31.0" rx="0.4" fill="none" stroke="#000" stroke-width="1"/>
<rect x="242.5" y="342.5" width="10.0" height="32.0" rx="0.4" fill="none" stroke="#000" stroke-width="1"/>
<rect x="224.5" y="401.5" width="12.0" height="31.0" rx="0.4" fill="none" stroke="#000" stroke-width="1"/>
<rect x="554.5" y="228.5" width="10.0" height="33.0" rx="0.4" fill="none" stroke="#000" stroke-width="1"/>
<rect x="586.5" y="285.5" width="12.0" height="33.0" rx="0.4" fill="none" stroke="#000" stroke-width="1"/>
<rect x="570.5" y="344.5" width="12.0" height="32.0" rx="0.4" fill="none" stroke="#000" stroke-width="1"/>
<rect x="570.5" y="400.5" width="12.0" height="34.0" rx="0.4" fill="none" stroke="#000" stroke-width="1"/>
<path d="M536.6,261.2 L536.6,241.8 A6.65,15.5 0 0 1 549.9,241.8 L549.9,261.2 Z" fill="none" stroke="#000" stroke-width="0.95"/>
<path d="M569.2,261.2 L569.2,241.8 A6.80,15.5 0 0 1 582.8,241.8 L582.8,261.2 Z" fill="none" stroke="#000" stroke-width="0.95"/>
<path d="M535.9,318.2 L535.9,298.1 A6.55,15.5 0 0 1 549.0,298.1 L549.0,318.2 Z" fill="none" stroke="#000" stroke-width="0.95"/>
<path d="M553.1,318.2 L553.1,298.1 A6.45,15.5 0 0 1 566.0,298.1 L566.0,318.2 Z" fill="none" stroke="#000" stroke-width="0.95"/>
<path d="M553.1,377.0 L553.1,356.6 A6.55,15.5 0 0 1 566.2,356.6 L566.2,377.0 Z" fill="none" stroke="#000" stroke-width="0.95"/>
<path d="M586.3,375.8 L586.3,356.6 A6.75,15.5 0 0 1 599.8,356.6 L599.8,375.8 Z" fill="none" stroke="#000" stroke-width="0.95"/>
<path d="M536.3,434.3 L536.3,413.5 A6.35,15.5 0 0 1 549.0,413.5 L549.0,434.3 Z" fill="none" stroke="#000" stroke-width="0.95"/>
<path d="M586.3,433.9 L586.3,413.5 A6.60,15.5 0 0 1 599.5,413.5 L599.5,433.9 Z" fill="none" stroke="#000" stroke-width="0.95"/>
<rect x="18.9" y="234.3" width="63.8" height="17.1" rx="0" fill="#990000" stroke="#000" stroke-width="1"/>
<text font-family="Liberation Sans, Arial, sans-serif" font-size="7.1" text-anchor="middle" fill="#fff" stroke="#fff" stroke-width="0" font-style="italic" textLength="22.3" lengthAdjust="spacingAndGlyphs" x="50.20" y="245.85"  xml:space="preserve">Day1-3</text>
<rect x="18.9" y="292.3" width="63.8" height="16.9" rx="0" fill="#ff0000" stroke="#c00000" stroke-width="1"/>
<text font-family="Liberation Sans, Arial, sans-serif" font-size="7.1" text-anchor="middle" fill="#fff" stroke="#fff" stroke-width="0" font-style="italic" textLength="22.3" lengthAdjust="spacingAndGlyphs" x="50.20" y="303.75"  xml:space="preserve">Day4-7</text>
<rect x="19.3" y="354.8" width="62.7" height="17.0" rx="0.5" fill="#ff9999" stroke="#ff4545" stroke-width="1.6"/>
<text font-family="Liberation Sans, Arial, sans-serif" font-size="7.1" text-anchor="middle" fill="#4f3a3a" stroke="#4f3a3a" stroke-width="0" font-style="italic" textLength="26.2" lengthAdjust="spacingAndGlyphs" x="50.05" y="366.30"  xml:space="preserve">Day8-10</text>
<rect x="19.3" y="412.5" width="62.7" height="16.7" rx="0.5" fill="#ffcccc" stroke="#ff4a1c" stroke-width="1.6"/>
<text font-family="Liberation Sans, Arial, sans-serif" font-size="7.1" text-anchor="middle" fill="#555" stroke="#555" stroke-width="0" font-style="italic" textLength="23.6" lengthAdjust="spacingAndGlyphs" x="50.05" y="423.85"  xml:space="preserve">Day&gt;11</text>
<rect x="603.9" y="234.3" width="62.7" height="17.2" rx="0" fill="#993300" stroke="#000" stroke-width="1"/>
<text font-family="Liberation Sans, Arial, sans-serif" font-size="7.1" text-anchor="middle" fill="#fff" stroke="#fff" stroke-width="0" font-style="italic" textLength="22.3" lengthAdjust="spacingAndGlyphs" x="634.65" y="245.90"  xml:space="preserve">Day1-3</text>
<rect x="603.9" y="292.5" width="62.7" height="16.7" rx="0" fill="#ff9900" stroke="#c55a11" stroke-width="1"/>
<text font-family="Liberation Sans, Arial, sans-serif" font-size="7.1" text-anchor="middle" fill="#fff" stroke="#fff" stroke-width="0" font-style="italic" textLength="22.3" lengthAdjust="spacingAndGlyphs" x="634.65" y="303.85"  xml:space="preserve">Day4-7</text>
<rect x="604.2" y="354.8" width="61.8" height="17.0" rx="0.5" fill="#ffcc66" stroke="#ffa82e" stroke-width="1.6"/>
<text font-family="Liberation Sans, Arial, sans-serif" font-size="7.1" text-anchor="middle" fill="#4f4230" stroke="#4f4230" stroke-width="0" font-style="italic" textLength="26.2" lengthAdjust="spacingAndGlyphs" x="634.50" y="366.30"  xml:space="preserve">Day8-10</text>
<rect x="604.1" y="412.6" width="61.9" height="16.6" rx="0.5" fill="#ffd9b0" stroke="#ff9f1a" stroke-width="1.6"/>
<text font-family="Liberation Sans, Arial, sans-serif" font-size="7.1" text-anchor="middle" fill="#555" stroke="#555" stroke-width="0" font-style="italic" textLength="23.6" lengthAdjust="spacingAndGlyphs" x="634.45" y="423.90"  xml:space="preserve">Day&gt;11</text>
<line x1="4.4" y1="231.4" x2="4.4" y2="275.4" stroke="#000" stroke-width="1"/>
<line x1="4.4" y1="383.8" x2="4.4" y2="428" stroke="#000" stroke-width="1"/>
<path d="M0.8000000000000003,423 L4.4,428.2 L8.0,423" fill="none" stroke="#000" stroke-width="1"/>
<text font-family="Liberation Sans, Arial, sans-serif" font-size="7.1" text-anchor="start" fill="#000" stroke="#000" stroke-width="0.15" textLength="26.4" lengthAdjust="spacingAndGlyphs" transform="translate(6.30,377.00) rotate(-90)"  xml:space="preserve">Timeline</text>
<text font-family="Liberation Sans, Arial, sans-serif" font-size="7.1" text-anchor="start" fill="#000" stroke="#000" stroke-width="0.15" textLength="15.2" lengthAdjust="spacingAndGlyphs" transform="translate(6.30,346.80) rotate(-90)"  xml:space="preserve">after</text>
<text font-family="Liberation Sans, Arial, sans-serif" font-size="7.1" text-anchor="start" fill="#000" stroke="#000" stroke-width="0.15" textLength="23.0" lengthAdjust="spacingAndGlyphs" transform="translate(6.30,329.40) rotate(-90)"  xml:space="preserve">disease</text>
<text font-family="Liberation Sans, Arial, sans-serif" font-size="7.1" text-anchor="start" fill="#000" stroke="#000" stroke-width="0.15" textLength="17.6" lengthAdjust="spacingAndGlyphs" transform="translate(6.30,304.40) rotate(-90)"  xml:space="preserve">onset</text>
<line x1="680.6" y1="231.4" x2="680.6" y2="275.4" stroke="#000" stroke-width="1"/>
<line x1="680.6" y1="383.8" x2="680.6" y2="428" stroke="#000" stroke-width="1"/>
<path d="M677.0,423 L680.6,428.2 L684.2,423" fill="none" stroke="#000" stroke-width="1"/>
<text font-family="Liberation Sans, Arial, sans-serif" font-size="7.1" text-anchor="start" fill="#000" stroke="#000" stroke-width="0.15" textLength="26.4" lengthAdjust="spacingAndGlyphs" transform="translate(683.10,377.00) rotate(-90)"  xml:space="preserve">Timeline</text>
<text font-family="Liberation Sans, Arial, sans-serif" font-size="7.1" text-anchor="start" fill="#000" stroke="#000" stroke-width="0.15" textLength="15.2" lengthAdjust="spacingAndGlyphs" transform="translate(683.10,346.80) rotate(-90)"  xml:space="preserve">after</text>
<text font-family="Liberation Sans, Arial, sans-serif" font-size="7.1" text-anchor="start" fill="#000" stroke="#000" stroke-width="0.15" textLength="23.0" lengthAdjust="spacingAndGlyphs" transform="translate(683.10,329.40) rotate(-90)"  xml:space="preserve">disease</text>
<text font-family="Liberation Sans, Arial, sans-serif" font-size="7.1" text-anchor="start" fill="#000" stroke="#000" stroke-width="0.15" textLength="17.6" lengthAdjust="spacingAndGlyphs" transform="translate(683.10,304.40) rotate(-90)"  xml:space="preserve">onset</text>
<line x1="81.6" y1="455.3" x2="112" y2="455.3" stroke="#000" stroke-width="1"/>
<text font-family="Liberation Sans, Arial, sans-serif" font-size="7.2" text-anchor="start" fill="#000" stroke="#000" stroke-width="0.15" textLength="33.2" lengthAdjust="spacingAndGlyphs" x="123.30" y="457.80"  xml:space="preserve">Ascendant</text>
<text font-family="Liberation Sans, Arial, sans-serif" font-size="7.2" text-anchor="start" fill="#000" stroke="#000" stroke-width="0.15" textLength="34.0" lengthAdjust="spacingAndGlyphs" x="164.60" y="457.80"  xml:space="preserve">Biomarker</text>
<text font-family="Liberation Sans, Arial, sans-serif" font-size="7.2" text-anchor="start" fill="#000" stroke="#000" stroke-width="0.15" textLength="34.4" lengthAdjust="spacingAndGlyphs" x="203.80" y="457.80"  xml:space="preserve">Signatures</text>
<line x1="250.2" y1="455.3" x2="276" y2="455.3" stroke="#000" stroke-width="1"/>
<path d="M272.5,453.6 L282,455.3 L272.5,457.0 Z" fill="#000"/>
<line x1="402" y1="455.3" x2="432.7" y2="455.3" stroke="#000" stroke-width="1"/>
<text font-family="Liberation Sans, Arial, sans-serif" font-size="7.2" text-anchor="start" fill="#000" stroke="#000" stroke-width="0.15" textLength="33.3" lengthAdjust="spacingAndGlyphs" x="444.90" y="457.80"  xml:space="preserve">Ascendant</text>
<text font-family="Liberation Sans, Arial, sans-serif" font-size="7.2" text-anchor="start" fill="#000" stroke="#000" stroke-width="0.15" textLength="34.0" lengthAdjust="spacingAndGlyphs" x="486.20" y="457.80"  xml:space="preserve">Biomarker</text>
<text font-family="Liberation Sans, Arial, sans-serif" font-size="7.2" text-anchor="start" fill="#000" stroke="#000" stroke-width="0.15" textLength="34.0" lengthAdjust="spacingAndGlyphs" x="525.50" y="457.80"  xml:space="preserve">Signatures</text>
<line x1="570.9" y1="455.3" x2="596.6" y2="455.3" stroke="#000" stroke-width="1"/>
<path d="M593.1,453.6 L602.6,455.3 L593.1,457.0 Z" fill="#000"/>
<rect x="306.6" y="282.5" width="86.7" height="85.5" fill="#fff" stroke="#000" stroke-width="1.4"/>
<rect x="307.3" y="283.2" width="85.3" height="15.6" fill="#d9d9d9"/>
<text font-family="Liberation Sans, Arial, sans-serif" font-size="7.5" text-anchor="middle" fill="#000" stroke="#000" stroke-width="0.15" font-style="italic" textLength="65.3" lengthAdjust="spacingAndGlyphs" x="349.10" y="293.50"  xml:space="preserve">Selected  Biomarkers</text>
<rect x="309.25" y="302.6" width="4.85" height="14.6" rx="0.5" fill="#fff" stroke="#000" stroke-width="1.2"/>
<text font-family="Liberation Sans, Arial, sans-serif" font-size="7.2" text-anchor="start" fill="#000" stroke="#000" stroke-width="0.15" textLength="29.5" lengthAdjust="spacingAndGlyphs" x="318.50" y="313.30"  xml:space="preserve">Universal</text>
<path d="M309,331.5 L312.05,322.5 L315.1,331.5 L312.05,340.6 Z" fill="#fff" stroke="#000" stroke-width="1"/>
<text font-family="Liberation Sans, Arial, sans-serif" font-size="7.2" text-anchor="start" fill="#000" stroke="#000" stroke-width="0.15" textLength="65.9" lengthAdjust="spacingAndGlyphs" x="318.50" y="334.00"  xml:space="preserve">Early Seroconversion</text>
<path d="M309.2,364.1 L309.2,352.6 A3,6.2 0 0 1 315.2,352.6 L315.2,364.1 Z" fill="#fff" stroke="#000" stroke-width="1"/>
<text font-family="Liberation Sans, Arial, sans-serif" font-size="7.2" text-anchor="start" fill="#000" stroke="#000" stroke-width="0.15" textLength="63.0" lengthAdjust="spacingAndGlyphs" x="318.50" y="357.00"  xml:space="preserve">Late Seroconversion</text>
</svg>
</body>
</html>
